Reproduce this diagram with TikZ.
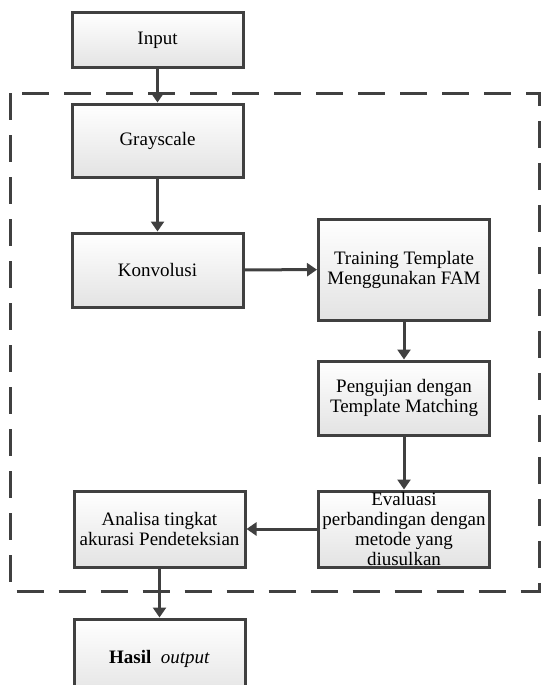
\documentclass[tikz,border=0pt]{standalone}
\usepackage{fontspec}
\setmainfont{Liberation Serif}
\usetikzlibrary{arrows.meta,shadows}
\definecolor{edge}{HTML}{404040}
\tikzset{
  stage/.style={draw=edge, line width=3pt, top color=white, bottom color=gray!22,
    minimum width=171pt, align=center, inner sep=1pt,
    font=\fontsize{19}{20}\selectfont,
    drop shadow={opacity=0.25, shadow xshift=1.5pt, shadow yshift=-1.5pt}},
  flow/.style={draw=edge, line width=3pt, -{Triangle[length=10pt,width=13pt]}},
  frame/.style={draw=edge, line width=3pt, dash pattern=on 27pt off 15pt}
}
\begin{document}
\begin{tikzpicture}[x=1pt,y=-1pt]
\useasboundingbox (0,0) rectangle (541,685);
\clip (0,0) rectangle (541,685);
% dashed frame round the processing steps
\draw[frame] (10.5,93) rectangle (539.5,591);
% left column
\node[stage, minimum height=55pt] (input) at (157.5,40.5) {Input};
\node[stage, minimum height=73pt] (gray) at (157.5,140.5) {Grayscale};
\node[stage, minimum height=74pt] (konv) at (157.5,270) {Konvolusi};
% right column
\node[stage, minimum height=101pt] (train) at (404,269.5) {Training Template\\Menggunakan FAM};
\node[stage, minimum height=74pt] (uji) at (404,398) {Pengujian dengan\\Template Matching};
\node[stage, minimum height=76pt] (eval) at (404,529) {Evaluasi\\perbandingan dengan\\metode yang\\diusulkan};
% bottom
\node[stage, minimum height=76pt] (anal) at (159.5,529) {Analisa tingkat\\akurasi Pendeteksian};
\node[stage, minimum height=80pt] (hasil) at (159.5,659) {\textbf{Hasil}\ \ \textit{output}};
% connectors
\draw[flow] (input) -- (gray);
\draw[flow] (gray) -- (konv);
\draw[flow] (konv) -- (train);
\draw[flow] (train) -- (uji);
\draw[flow] (uji) -- (eval);
\draw[flow] (eval) -- (anal);
\draw[flow] (anal) -- (hasil);
\end{tikzpicture}
\end{document}
